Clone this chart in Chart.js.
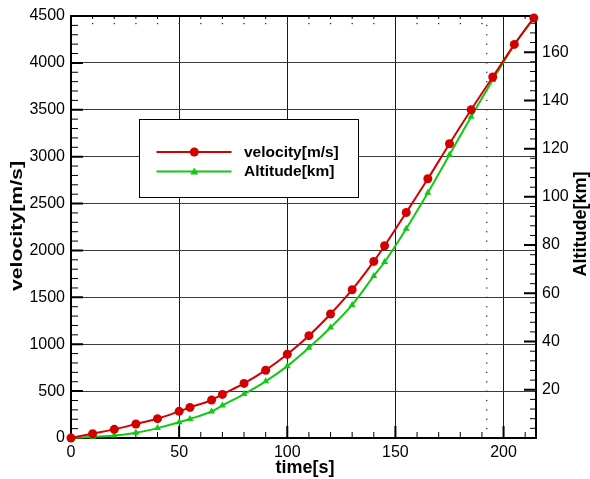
<!DOCTYPE html>
<html>
<head>
<meta charset="utf-8">
<script src="https://cdn.jsdelivr.net/npm/chart.js@4.4.0/dist/chart.umd.min.js"></script>
<style>
  html, body { margin: 0; padding: 0; background: #fff; }
  #wrap { width: 590px; height: 479px; }
</style>
</head>
<body>
<div id="wrap"><canvas id="flight" width="590" height="479"></canvas></div>
<script>
// flight profile: time [s], velocity [m/s], altitude [km]
const times = [0, 10, 20, 30, 40, 50, 55, 65, 70, 80, 90, 100, 110, 120, 130, 140, 145, 155, 165, 175, 185, 195, 205, 214];
const velocity = [0, 46, 92, 149, 206, 284, 326, 405, 465, 582, 723, 893, 1091, 1322, 1581, 1883, 2050, 2405, 2764, 3138, 3500, 3849, 4197, 4480];
const altitude = [0, 0.5, 1, 2.2, 4.1, 6.5, 7.9, 11, 13.5, 18.2, 23.5, 29.8, 37.4, 45.8, 55.2, 67.2, 73, 86.8, 101.7, 117.5, 133.2, 148.5, 163, 174.2];

const timeTicks = [0, 50, 100, 150, 200];
const velocityTicks = [0, 500, 1000, 1500, 2000, 2500, 3000, 3500, 4000, 4500];
const altitudeTicks = [20, 40, 60, 80, 100, 120, 140, 160];

const RED = '#d40000';
const GREEN = '#12c812';
const FONT = "'Liberation Sans', Arial, sans-serif";

Chart.defaults.font.family = FONT;
Chart.defaults.color = '#000';

function setTicks(list) {
  return scale => { scale.ticks = list.map(v => ({ value: v })); };
}
const plain = v => String(v);

// frame, inside tick marks, dotted guides
const framePlugin = {
  id: 'framePlugin',
  beforeDatasetsDraw(chart) {
    const { ctx, chartArea: a, scales } = chart;
    const x = scales.x, y = scales.y, y2 = scales.y2;
    ctx.save();

    // dotted guide lines
    ctx.fillStyle = '#333';
    const gy = y.getPixelForValue(4420);
    for (let t = 10; t <= 190; t += 10) {
      ctx.fillRect(x.getPixelForValue(t) - 0.6, gy - 0.6, 1.3, 1.3);
    }
    const gx = x.getPixelForValue(192.2);
    for (let v = 100; v <= 4400; v += 100) {
      ctx.fillRect(gx - 0.6, y.getPixelForValue(v) - 0.6, 1.3, 1.3);
    }

    // minor ticks
    ctx.strokeStyle = '#000';
    ctx.lineWidth = 1;
    ctx.beginPath();
    for (let t = 10; t <= 210; t += 10) {
      if (t % 50 === 0) continue;
      const px = x.getPixelForValue(t);
      ctx.moveTo(px, a.bottom); ctx.lineTo(px, a.bottom - 6);
      ctx.moveTo(px, a.top); ctx.lineTo(px, a.top + 3);
    }
    for (let v = 100; v < 4500; v += 100) {
      if (v % 500 === 0) continue;
      const py = y.getPixelForValue(v);
      ctx.moveTo(a.left, py); ctx.lineTo(a.left + 7, py);
    }
    for (let h = 4; h < 175; h += 4) {
      if (h % 20 === 0) continue;
      const py = y2.getPixelForValue(h);
      ctx.moveTo(a.right, py); ctx.lineTo(a.right - 6, py);
    }
    ctx.stroke();

    // major ticks
    ctx.lineWidth = 2;
    ctx.beginPath();
    timeTicks.forEach(t => {
      const px = x.getPixelForValue(t);
      ctx.moveTo(px, a.bottom); ctx.lineTo(px, a.bottom - 12);
    });
    velocityTicks.forEach(v => {
      const py = y.getPixelForValue(v);
      ctx.moveTo(a.left, py); ctx.lineTo(a.left + 12, py);
    });
    altitudeTicks.forEach(h => {
      const py = y2.getPixelForValue(h);
      ctx.moveTo(a.right, py); ctx.lineTo(a.right - 12, py);
    });
    ctx.stroke();

    // frame
    ctx.lineWidth = 2;
    ctx.strokeRect(a.left, a.top, a.right - a.left, a.bottom - a.top);
    ctx.restore();
  },
  afterDraw(chart) {
    const { ctx } = chart;
    ctx.save();

    // legend box
    ctx.fillStyle = '#fff';
    ctx.fillRect(139, 119, 219, 78);
    ctx.strokeStyle = '#000';
    ctx.lineWidth = 1;
    ctx.strokeRect(139.5, 119.5, 219, 78);

    const rows = [
      { label: 'velocity[m/s]', color: RED, y: 152, marker: 'circle' },
      { label: 'Altitude[km]', color: GREEN, y: 171.5, marker: 'triangle' }
    ];
    rows.forEach(r => {
      ctx.strokeStyle = r.color;
      ctx.lineWidth = 2;
      ctx.beginPath();
      ctx.moveTo(156.5, r.y); ctx.lineTo(231.5, r.y);
      ctx.stroke();
      ctx.fillStyle = r.color;
      ctx.beginPath();
      if (r.marker === 'circle') {
        ctx.arc(194.3, r.y, 4.5, 0, Math.PI * 2);
      } else {
        ctx.moveTo(194.3, r.y - 4); ctx.lineTo(198.3, r.y + 3); ctx.lineTo(190.3, r.y + 3); ctx.closePath();
      }
      ctx.fill();
      ctx.fillStyle = '#000';
      ctx.font = 'bold 15.5px ' + FONT;
      ctx.textBaseline = 'middle';
      ctx.textAlign = 'left';
      ctx.fillText(r.label, 244, r.y + 0.5);
    });

    // axis titles
    ctx.fillStyle = '#000';
    ctx.textAlign = 'center';
    ctx.textBaseline = 'middle';
    ctx.font = 'bold 18px ' + FONT;
    ctx.fillText('time[s]', 305, 468);

    ctx.save();
    ctx.translate(18, 226);
    ctx.rotate(-Math.PI / 2);
    ctx.scale(1.33, 1);
    ctx.font = 'bold 16px ' + FONT;
    ctx.fillText('velocity[m/s]', 0, 0);
    ctx.restore();

    ctx.save();
    ctx.translate(581, 224);
    ctx.rotate(-Math.PI / 2);
    ctx.font = 'bold 18px ' + FONT;
    ctx.fillText('Altitude[km]', 0, 0);
    ctx.restore();

    ctx.restore();
  }
};

new Chart(document.getElementById('flight'), {
  type: 'line',
  data: {
    datasets: [
      {
        label: 'velocity[m/s]',
        data: times.map((t, i) => ({ x: t, y: velocity[i] })),
        yAxisID: 'y',
        borderColor: RED,
        backgroundColor: RED,
        borderWidth: 2,
        pointStyle: 'circle',
        pointRadius: 4.5,
        pointBorderWidth: 0,
        cubicInterpolationMode: 'monotone',
        clip: false
      },
      {
        label: 'Altitude[km]',
        data: times.map((t, i) => ({ x: t, y: altitude[i] })),
        yAxisID: 'y2',
        borderColor: GREEN,
        backgroundColor: GREEN,
        borderWidth: 2,
        pointStyle: 'triangle',
        pointRadius: 4,
        pointBorderWidth: 0,
        cubicInterpolationMode: 'monotone',
        clip: false
      }
    ]
  },
  options: {
    responsive: false,
    animation: false,
    layout: { padding: { top: 16, left: 0, right: 0, bottom: 0 } },
    plugins: {
      legend: { display: false },
      tooltip: { enabled: false }
    },
    scales: {
      x: {
        type: 'linear',
        min: 0,
        max: 215,
        afterBuildTicks: setTicks(timeTicks),
        afterFit: s => { s.height = 41; },
        border: { display: false },
        grid: { color: '#1a1a1a', lineWidth: 1, drawTicks: false },
        ticks: { font: { size: 16 }, padding: 5, maxRotation: 0, callback: plain }
      },
      y: {
        type: 'linear',
        position: 'left',
        min: 0,
        max: 4500,
        afterBuildTicks: setTicks(velocityTicks),
        afterFit: s => { s.width = 71; },
        border: { display: false },
        grid: { color: '#3a3a3a', lineWidth: 1, drawTicks: false },
        ticks: { font: { size: 16 }, padding: 6, callback: plain }
      },
      y2: {
        type: 'linear',
        position: 'right',
        min: 0,
        max: 175,
        afterBuildTicks: setTicks(altitudeTicks),
        afterFit: s => { s.width = 54; },
        border: { display: false },
        grid: { display: false, drawTicks: false },
        ticks: { font: { size: 16 }, padding: 6, callback: plain }
      }
    }
  },
  plugins: [framePlugin]
});
</script>
</body>
</html>
